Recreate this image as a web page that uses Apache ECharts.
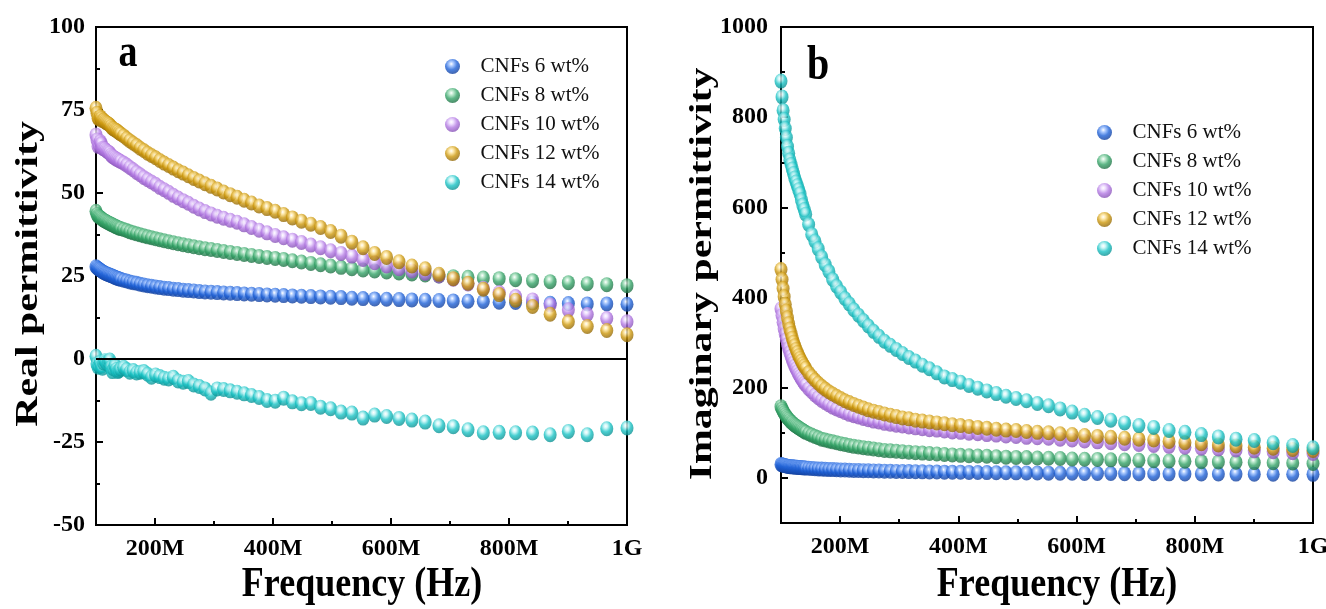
<!DOCTYPE html>
<html>
<head>
<meta charset="utf-8">
<script src="https://cdn.jsdelivr.net/npm/echarts@6/dist/echarts.min.js"></script>
<style>
html,body{margin:0;padding:0;background:#fff;}
#chart{width:1326px;height:609px;}
</style>
</head>
<body>
<div id="chart"></div>
<script>
// Frequency sampling (MHz): denser at the low end
const freqMHz = [100, 101.76, 103.55, 105.37, 107.23, 109.12, 111.03, 112.98, 114.98, 117.00,
  119.06, 121.16, 123.29, 125.46, 127.67, 129.92, 132.20, 134.53, 136.89, 139.30,
  141.75, 146.78, 152.00, 157.39, 162.98, 168.77, 174.76, 180.97, 187.39, 194.05,
  200.94, 208.07, 215.44, 223.09, 231.01, 239.22, 247.71, 256.50, 265.61, 275.04,
  284.80, 294.91, 305.38, 316.23, 327.45, 339.08, 351.12, 363.59, 376.49, 389.86,
  403.70, 418.03, 432.88, 448.24, 464.16, 480.64, 497.70, 515.37, 533.67, 552.62,
  572.24, 592.55, 613.59, 635.38, 657.93, 681.29, 705.48, 730.52, 756.46, 783.32,
  811.13, 839.92, 869.74, 900.62, 932.60, 965.70, 1000];

const seriesNames = ['CNFs 6 wt%', 'CNFs 8 wt%', 'CNFs 10 wt%', 'CNFs 12 wt%', 'CNFs 14 wt%'];

// Panel a: real permittivity
const real6 = [27.8,27.5,27.2,27.0,26.8,26.5,26.3,26.1,25.9,25.7,
  25.6,25.4,25.3,25.1,25.0,24.8,24.6,24.4,24.3,24.1,
  24.0,23.7,23.5,23.2,23.0,22.8,22.5,22.3,22.1,21.9,
  21.7,21.5,21.3,21.2,21.0,20.9,20.7,20.6,20.5,20.3,
  20.2,20.1,20.0,19.9,19.8,19.7,19.6,19.5,19.4,19.3,
  19.2,19.1,19.0,18.9,18.8,18.7,18.6,18.5,18.3,18.2,
  18.1,18.0,17.9,17.8,17.7,17.6,17.5,17.4,17.3,17.1,
  17.0,16.9,16.8,16.7,16.6,16.6,16.5];
const real8 = [44.5,43.5,43.0,42.8,42.6,42.3,42.0,41.8,41.6,41.4,
  41.2,41.0,40.8,40.6,40.4,40.2,40.0,39.8,39.6,39.4,
  39.3,39.0,38.7,38.3,38.0,37.7,37.4,37.1,36.8,36.5,
  36.2,35.9,35.6,35.3,35.0,34.7,34.4,34.1,33.8,33.5,
  33.2,33.0,32.7,32.4,32.1,31.8,31.5,31.2,30.9,30.6,
  30.3,30.0,29.6,29.2,28.8,28.4,28.0,27.6,27.2,26.8,
  26.5,26.2,25.9,25.6,25.3,25.0,24.8,24.6,24.4,24.2,
  23.9,23.6,23.3,23.0,22.7,22.4,22.1];
const real10 = [67.5,66.0,64.0,64.5,65.5,64.8,63.5,63.3,63.2,62.8,
  62.5,62.3,62.0,61.4,61.0,60.8,60.5,60.2,60.0,59.7,
  59.5,59.0,58.4,57.7,57.0,56.2,55.5,54.7,54.0,53.3,
  52.6,51.7,51.0,50.2,49.3,48.5,47.7,46.9,46.0,45.2,
  44.4,43.7,43.0,42.4,41.8,41.2,40.4,39.6,38.8,38.0,
  37.2,36.5,35.8,35.1,34.3,33.5,32.6,31.8,31.0,30.0,
  29.0,28.0,27.2,26.5,25.8,25.0,24.0,22.6,21.3,20.0,
  18.8,17.8,16.3,14.8,13.4,12.2,11.2];
const real12 = [75.5,74.0,72.5,72.2,73.0,72.4,71.8,71.9,71.5,71.2,
  71.0,70.8,70.5,70.0,69.5,69.3,69.0,68.8,68.5,68.1,
  67.8,67.2,66.4,65.7,65.0,64.3,63.5,62.8,62.0,61.3,
  60.6,59.8,59.0,58.3,57.5,56.7,56.0,55.2,54.4,53.6,
  52.8,52.0,51.2,50.3,49.5,48.7,47.8,47.0,46.1,45.3,
  44.5,43.5,42.5,41.5,40.6,39.6,38.4,37.0,35.2,33.5,
  31.8,30.6,29.3,28.0,27.2,25.5,24.2,22.8,21.0,19.4,
  17.7,15.8,13.5,11.2,9.8,8.6,7.3];
const real14 = [0.8,-1.5,-2.5,-2.0,-1.0,-2.2,-2.8,-1.2,-0.5,-1.0,
  -1.5,-0.8,-0.3,-2.5,-3.8,-3.0,-2.0,-3.2,-3.8,-3.5,
  -3.0,-2.5,-3.2,-4.0,-3.5,-4.2,-4.0,-3.8,-4.6,-5.5,
  -4.8,-5.3,-5.8,-6.0,-5.5,-6.6,-7.0,-6.8,-7.8,-8.3,
  -9.0,-10.3,-9.0,-9.2,-9.6,-10.0,-10.5,-11.0,-11.6,-12.5,
  -12.7,-11.8,-12.9,-13.5,-13.4,-14.5,-15.0,-16.0,-16.3,-17.8,
  -16.9,-17.3,-17.9,-18.4,-19.0,-20.1,-20.4,-21.3,-22.2,-22.1,
  -22.2,-22.3,-22.8,-21.8,-22.8,-21.0,-20.8];

// Panel b: imaginary permittivity
const imag6 = [30,29,28,27.5,27,26.5,26,25.5,25,24.8,
  24.5,24.2,24,23.8,23.5,23.2,23,22.8,22.5,22.2,
  22,21.5,21,20.5,20,19.5,19,18.7,18.4,18,
  17.7,17.4,17,16.7,16.4,16.1,15.8,15.5,15.2,15,
  14.7,14.4,14.2,14,13.7,13.5,13.2,13,12.8,12.6,
  12.4,12.2,12,11.8,11.6,11.4,11.2,11,10.8,10.6,
  10.4,10.2,10,9.9,9.7,9.5,9.4,9.2,9,8.9,
  8.7,8.6,8.4,8.3,8.1,8,7.9];
const imag8 = [158,153,148,144,140,136,133,130,127,124,
  122,119,117,115,113,111,109,107,105,103,
  101,98,95,92,89,86,84,82,80,78,
  76,74,72,70,68.5,67,65.5,64,62.5,61,
  60,59,58,57,56,55,54,53,52,51,
  50,49,48.5,48,47,46,45.5,45,44,43.5,
  43,42,41.5,41,40,39.5,39,38,37.5,37,
  36,35.5,35,34,33.5,33,32];
const imag10 = [375,360,345,331,318,307,296,287,278,270,
  262,255,248,242,236,230,225,220,215,210,
  206,198,191,184,178,172,167,162,157,153,
  149,145,141,138,135,132,129,126,124,121,
  119,117,115,113,111,109,107,106,104,102,
  101,99,98,96,95,93,92,90,89,88,
  86,84,82,80,78,76,74,72,70,68,
  66,64,62,60,58,56,54];
const imag12 = [462,440,420,402,385,370,355,342,330,320,
  310,301,293,285,278,271,265,259,253,248,
  243,233,225,217,210,203,197,191,186,181,
  176,171,167,163,159,155,151,148,145,142,
  139,136,133,131,128,126,124,122,120,118,
  116,114,112,110,108,106,105,103,101,100,
  98,96,94,92,90,88,86,84,81,78,
  76,73,71,68,66,63,61];
const imag14 = [880,845,815,795,775,755,735,720,705,695,
  685,675,665,656,648,639,630,617,605,595,
  585,562,540,525,508,490,473,458,440,425,
  412,398,386,373,361,349,337,325,314,303,
  294,285,276,267,259,250,242,233,224,218,
  212,205,199,193,187,181,176,171,165,160,
  153,146,139,134,128,122,116,112,105,101,
  96,91,86,83,78,72,67];

const xMajorTicks = [200, 400, 600, 800, 1000];
const xMinorTicks = [300, 500, 700, 900];
const yMajorTicksB = [0, 200, 400, 600, 800, 1000];
const yMinorTicksB = [-100, 100, 300, 500, 700, 900];

const palette = [
  {base:'#1f62d8', light:'#9cc0ff', dark:'#113c96'},
  {base:'#35a468', light:'#b0e5c4', dark:'#1d6b41'},
  {base:'#b37ae3', light:'#ecd9ff', dark:'#824eb1'},
  {base:'#cd990e', light:'#ffe69c', dark:'#8c6307'},
  {base:'#1ac3c5', light:'#c4f5f6', dark:'#0b8b8d'}
];
function sphere(c){
  return {type:'radial', x:0.42, y:0.33, r:0.7, colorStops:[
    {offset:0, color:'#ffffff'}, {offset:0.2, color:c.light},
    {offset:0.55, color:c.base}, {offset:1, color:c.dark}]};
}

const FONT = '"Liberation Serif", "Times New Roman", serif';
const realSets = [real6, real8, real10, real12, real14];
const imagSets = [imag6, imag8, imag10, imag12, imag14];

function pairs(vals){ return freqMHz.map((f,i)=>[f, vals[i]]); }
function fmtFreq(v){ return v === 1000 ? '1G' : v + 'M'; }

const tickLabelStyle = {color:'#000', fontFamily:FONT, fontWeight:'bold', fontSize:24};

function mainX(gridIndex){
  return {type:'value', gridIndex, min:100, max:1000, interval:100, position:'bottom',
    axisLine:{show:true, onZero:false, lineStyle:{color:'#000', width:2}},
    axisTick:{show:true, inside:true, length:7, lineStyle:{color:'#000', width:2}, customValues:xMajorTicks},
    axisLabel:Object.assign({margin:12, customValues:xMajorTicks,
      formatter:v=> (xMajorTicks.indexOf(v) >= 0 ? fmtFreq(v) : '')}, tickLabelStyle),
    splitLine:{show:false}};
}
function minorX(gridIndex){
  return {type:'value', gridIndex, min:100, max:1000, interval:100, position:'bottom',
    axisLine:{show:false, onZero:false},
    axisTick:{show:true, inside:true, length:4, lineStyle:{color:'#000', width:2}, customValues:xMinorTicks},
    axisLabel:{show:false}, splitLine:{show:false}};
}

const series = [];
seriesNames.forEach((name, k)=>{
  const s = {name, type:'scatter', xAxisIndex:0, yAxisIndex:0, data:pairs(realSets[k]),
    symbol:'circle', symbolSize:[13,15], itemStyle:{color:sphere(palette[k])}, z:2+k};
  if (k === 0) {
    s.markLine = {silent:true, symbol:['none','none'], label:{show:false},
      lineStyle:{color:'#000', width:2, type:'solid'}, data:[{yAxis:0}], z:10};
  }
  series.push(s);
});
seriesNames.forEach((name, k)=>{
  series.push({name, type:'scatter', xAxisIndex:2, yAxisIndex:1, data:pairs(imagSets[k]),
    symbol:'circle', symbolSize:[13,15], itemStyle:{color:sphere(palette[k])}, z:2+k});
});

function legendAt(left, top){
  return {orient:'vertical', left, top, itemWidth:46, itemHeight:15, itemGap:8, icon:'circle',
    data:seriesNames, selectedMode:false,
    textStyle:{fontFamily:FONT, fontSize:21, color:'#111', lineHeight:21}};
}

const option = {
  animation:false,
  backgroundColor:'#ffffff',
  grid:[
    {left:96, top:27, width:531, height:498, show:true, borderColor:'#000', borderWidth:2, containLabel:false, outerBoundsMode:'none'},
    {left:781, top:27, width:532, height:496, show:true, borderColor:'#000', borderWidth:2, containLabel:false, outerBoundsMode:'none'}
  ],
  xAxis:[mainX(0), minorX(0), mainX(1), minorX(1)],
  yAxis:[
    {type:'value', gridIndex:0, min:-50, max:100, interval:25, position:'left',
      axisLine:{show:true, onZero:false, lineStyle:{color:'#000', width:2}},
      axisTick:{show:true, inside:true, length:7, lineStyle:{color:'#000', width:2}},
      minorTick:{show:true, splitNumber:2, length:4, lineStyle:{color:'#000', width:2}},
      axisLabel:Object.assign({margin:11}, tickLabelStyle), splitLine:{show:false}},
    {type:'value', gridIndex:1, min:-100, max:1000, interval:100, position:'left',
      axisLine:{show:true, onZero:false, lineStyle:{color:'#000', width:2}},
      axisTick:{show:true, inside:true, length:7, lineStyle:{color:'#000', width:2}, customValues:yMajorTicksB},
      axisLabel:Object.assign({margin:13, customValues:yMajorTicksB,
        formatter:v=> (v >= 0 && v % 200 === 0 ? String(v) : '')}, tickLabelStyle),
      splitLine:{show:false}},
    {type:'value', gridIndex:1, min:-100, max:1000, interval:100, position:'left',
      axisLine:{show:false, onZero:false},
      axisTick:{show:true, inside:true, length:4, lineStyle:{color:'#000', width:2}, customValues:yMinorTicksB},
      axisLabel:{show:false}, splitLine:{show:false}}
  ],
  legend:[legendAt(440, 51), legendAt(1092, 117)],
  graphic:[
    {type:'text', x:362, y:585, scaleY:1.2, silent:true,
      style:{text:'Frequency (Hz)', font:'bold 36px ' + FONT, fill:'#000', align:'center', verticalAlign:'middle'}},
    {type:'text', x:1057, y:585, scaleY:1.2, silent:true,
      style:{text:'Frequency (Hz)', font:'bold 36px ' + FONT, fill:'#000', align:'center', verticalAlign:'middle'}},
    {type:'text', x:29, y:274, rotation:Math.PI/2, scaleX:1.35, silent:true,
      style:{text:'Real permittivity', font:'bold 31px ' + FONT, fill:'#000', align:'center', verticalAlign:'middle'}},
    {type:'text', x:703, y:274, rotation:Math.PI/2, scaleX:1.35, silent:true,
      style:{text:'Imaginary permittivity', font:'bold 31px ' + FONT, fill:'#000', align:'center', verticalAlign:'middle'}},
    {type:'text', x:128, y:54, scaleY:1.2, silent:true,
      style:{text:'a', font:'bold 38px ' + FONT, fill:'#000', align:'center', verticalAlign:'middle'}},
    {type:'text', x:818, y:67, scaleY:1.2, silent:true,
      style:{text:'b', font:'bold 40px ' + FONT, fill:'#000', align:'center', verticalAlign:'middle'}}
  ],
  series
};

const chart = echarts.init(document.getElementById('chart'), null, {renderer:'canvas'});
chart.setOption(option);
</script>
</body>
</html>
